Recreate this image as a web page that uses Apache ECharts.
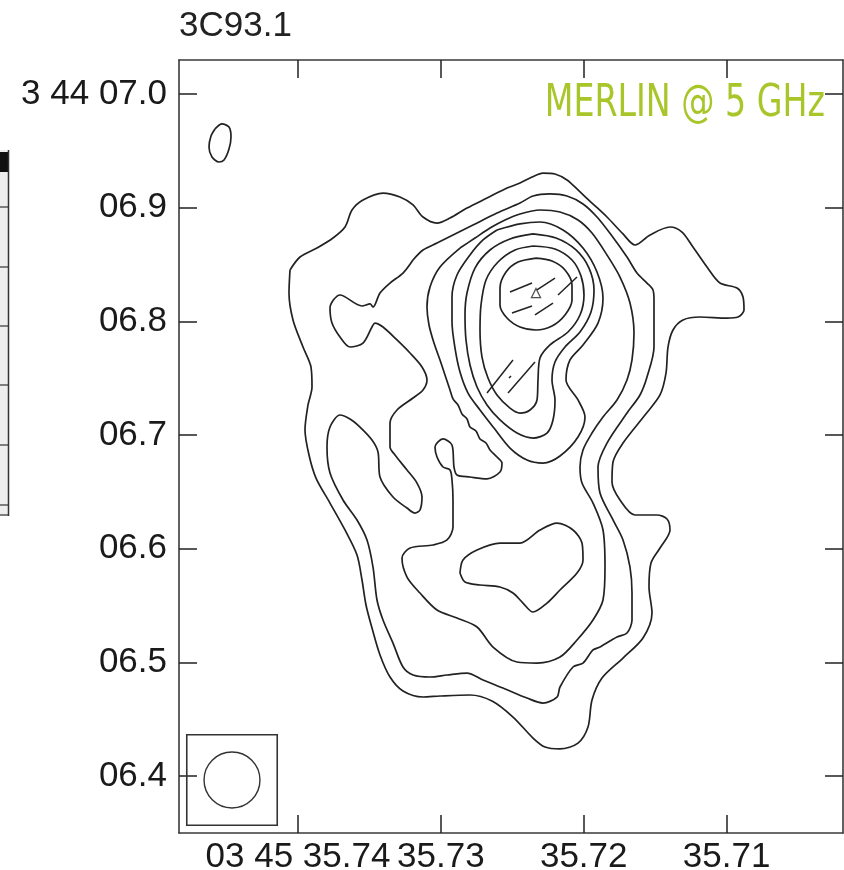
<!DOCTYPE html>
<html><head><meta charset="utf-8">
<script src="https://cdn.jsdelivr.net/npm/echarts@6/dist/echarts.min.js"></script>
<style>html,body{margin:0;padding:0;background:#fff}#c{width:844px;height:870px}</style>
</head><body><div id="c"></div>
<script>
// Right ascension (s past 03h45m) and declination (arcsec past +3d44m) ticks
const raTicks = [35.74, 35.73, 35.72, 35.71];
const raTickLabels = ['03 45 35.74', '35.73', '35.72', '35.71'];
const decTicks = [6.4, 6.5, 6.6, 6.7, 6.8, 6.9, 7.0];
const decTickLabels = ['06.4', '06.5', '06.6', '06.7', '06.8', '06.9', '3 44 07.0'];
const raRange = [35.70185, 35.74833];
const decRange = [6.34984, 7.03008];

// Contour polygons [RA s, Dec arcsec]
const contourBlob = [[35.74581,6.9694],[35.74532,6.9738],[35.74483,6.9711],[35.74469,6.9623],[35.74483,6.9518],[35.74518,6.9421],[35.74553,6.9403],[35.74602,6.9447],[35.74623,6.9535],[35.74609,6.9632],[35.74581,6.9694]];

const contour1 = [[35.74056,6.8453],[35.73986,6.8567],[35.73867,6.8646],[35.73755,6.8734],[35.73671,6.8831],[35.73622,6.8981],[35.73545,6.9069],[35.73405,6.9130],[35.73286,6.9095],[35.73195,6.9025],[35.73125,6.8919],[35.73027,6.8866],[35.72936,6.8910],[35.72817,6.8998],[35.72677,6.9086],[35.72537,6.9174],[35.72446,6.9218],[35.72362,6.9271],[35.72285,6.9306],[35.72201,6.9298],[35.72117,6.9245],[35.72040,6.9157],[35.71942,6.9042],[35.71837,6.8919],[35.71725,6.8770],[35.71641,6.8673],[35.71536,6.8761],[35.71396,6.8831],[35.71312,6.8787],[35.71235,6.8655],[35.71137,6.8479],[35.71046,6.8338],[35.70927,6.8294],[35.70885,6.8215],[35.70878,6.8101],[35.70920,6.8039],[35.70997,6.8030],[35.71186,6.8039],[35.71305,6.8013],[35.71375,6.7925],[35.71410,6.7775],[35.71424,6.7546],[35.71466,6.7353],[35.71571,6.7177],[35.71725,6.6930],[35.71795,6.6763],[35.71802,6.6587],[35.71746,6.6429],[35.71641,6.6297],[35.71487,6.6297],[35.71417,6.6262],[35.71396,6.6165],[35.71466,6.6006],[35.71529,6.5874],[35.71543,6.5663],[35.71522,6.5434],[35.71585,6.5214],[35.71725,6.5038],[35.71872,6.4862],[35.71942,6.4669],[35.71970,6.4431],[35.72040,6.4290],[35.72166,6.4238],[35.72271,6.4255],[35.72355,6.4334],[35.72495,6.4519],[35.72642,6.4660],[35.72796,6.4713],[35.73006,6.4704],[35.73125,6.4695],[35.73265,6.4748],[35.73356,6.4871],[35.73426,6.5065],[35.73482,6.5302],[35.73524,6.5505],[35.73552,6.5725],[35.73587,6.5945],[35.73671,6.6165],[35.73776,6.6402],[35.73874,6.6622],[35.73923,6.6825],[35.73951,6.7045],[35.73930,6.7265],[35.73902,6.7423],[35.73909,6.7599],[35.73965,6.7775],[35.74035,6.8013],[35.74063,6.8250],[35.74056,6.8453]];

const contour2 = [[35.73195,6.8541],[35.73125,6.8629],[35.73027,6.8690],[35.72915,6.8761],[35.72775,6.8849],[35.72607,6.8954],[35.72446,6.9042],[35.72355,6.9104],[35.72236,6.9122],[35.72117,6.9104],[35.72005,6.9034],[35.71907,6.8919],[35.71802,6.8752],[35.71697,6.8567],[35.71627,6.8426],[35.71557,6.8338],[35.71515,6.8277],[35.71508,6.8189],[35.71508,6.7775],[35.71557,6.7511],[35.71606,6.7353],[35.71697,6.7194],[35.71837,6.6930],[35.71900,6.6719],[35.71886,6.6490],[35.71795,6.6253],[35.71725,6.6077],[35.71676,6.5839],[35.71662,6.5610],[35.71662,6.5373],[35.71697,6.5258],[35.71767,6.5223],[35.71886,6.5135],[35.71935,6.5109],[35.72005,6.4994],[35.72075,6.4959],[35.72166,6.4783],[35.72187,6.4695],[35.72285,6.4642],[35.72397,6.4686],[35.72565,6.4774],[35.72705,6.4845],[35.72817,6.4906],[35.72957,6.4889],[35.73076,6.4871],[35.73195,6.4889],[35.73265,6.4959],[35.73335,6.5170],[35.73405,6.5373],[35.73447,6.5549],[35.73475,6.5839],[35.73517,6.6077],[35.73587,6.6253],[35.73685,6.6429],[35.73776,6.6666],[35.73797,6.6895],[35.73776,6.7071],[35.73706,6.7177],[35.73636,6.7142],[35.73566,6.7071],[35.73482,6.6957],[35.73440,6.6851],[35.73426,6.6631],[35.73335,6.6455],[35.73237,6.6358],[35.73181,6.6314],[35.73146,6.6341],[35.73132,6.6455],[35.73167,6.6578],[35.73237,6.6693],[35.73321,6.6825],[35.73356,6.6895],[35.73356,6.7106],[35.73307,6.7221],[35.73195,6.7326],[35.73125,6.7397],[35.73097,6.7485],[35.73132,6.7599],[35.73216,6.7722],[35.73307,6.7837],[35.73405,6.7951],[35.73461,6.7986],[35.73482,6.7951],[35.73545,6.7810],[35.73636,6.7775],[35.73706,6.7863],[35.73762,6.7986],[35.73776,6.8118],[35.73706,6.8233],[35.73552,6.8136],[35.73496,6.8154],[35.73475,6.8127],[35.73426,6.8250],[35.73356,6.8338],[35.73265,6.8426],[35.73195,6.8541]];

const contour3 = [[35.72866,6.8646],[35.72761,6.8734],[35.72656,6.8822],[35.72551,6.8893],[35.72446,6.8946],[35.72306,6.8981],[35.72166,6.8963],[35.72040,6.8893],[35.71942,6.8778],[35.71837,6.8585],[35.71746,6.8391],[35.71676,6.8162],[35.71648,6.7898],[35.71662,6.7661],[35.71697,6.7485],[35.71767,6.7309],[35.71865,6.7159],[35.71942,6.7018],[35.72005,6.6869],[35.72026,6.6719],[35.72012,6.6578],[35.71935,6.6402],[35.71865,6.6165],[35.71851,6.5839],[35.71865,6.5549],[35.71935,6.5373],[35.72047,6.5197],[35.72166,6.5047],[35.72327,6.4994],[35.72467,6.5003],[35.72635,6.5135],[35.72747,6.5311],[35.72887,6.5390],[35.73027,6.5461],[35.73146,6.5610],[35.73237,6.5751],[35.73272,6.5918],[35.73216,6.6006],[35.73055,6.6033],[35.72957,6.6077],[35.72915,6.6191],[35.72915,6.6429],[35.72922,6.6605],[35.72936,6.6693],[35.72985,6.6719],[35.73027,6.6807],[35.73041,6.6895],[35.72985,6.6966],[35.72922,6.6913],[35.72908,6.6719],[35.72887,6.6649],[35.72796,6.6631],[35.72677,6.6614],[35.72586,6.6675],[35.72572,6.6754],[35.72607,6.6807],[35.72656,6.6869],[35.72684,6.6930],[35.72726,6.6966],[35.72754,6.7036],[35.72796,6.7071],[35.72817,6.7142],[35.72852,6.7186],[35.72880,6.7265],[35.72915,6.7318],[35.72936,6.7397],[35.72971,6.7529],[35.73006,6.7661],[35.73048,6.7810],[35.73083,6.7969],[35.73097,6.8127],[35.73076,6.8303],[35.73006,6.8479],[35.72866,6.8646]];

const contour4 = [[35.72607,6.8805],[35.72446,6.8858],[35.72306,6.8875],[35.72145,6.8805],[35.72005,6.8646],[35.71907,6.8435],[35.71865,6.8206],[35.71900,6.7986],[35.72005,6.7793],[35.72096,6.7661],[35.72124,6.7485],[35.72040,6.7309],[35.71991,6.7159],[35.72040,6.6983],[35.72166,6.6816],[35.72285,6.6754],[35.72397,6.6781],[35.72516,6.6886],[35.72628,6.7062],[35.72726,6.7221],[35.72810,6.7370],[35.72866,6.7555],[35.72901,6.7766],[35.72922,6.7995],[35.72922,6.8215],[35.72887,6.8409],[35.72796,6.8585],[35.72705,6.8717],[35.72607,6.8805]];

const contour4b = [[35.72866,6.5786],[35.72845,6.5901],[35.72747,6.5989],[35.72586,6.6050],[35.72446,6.6050],[35.72306,6.6165],[35.72187,6.6226],[35.72075,6.6165],[35.72012,6.6050],[35.72005,6.5901],[35.72047,6.5786],[35.72166,6.5637],[35.72257,6.5522],[35.72355,6.5443],[35.72425,6.5522],[35.72495,6.5610],[35.72586,6.5663],[35.72726,6.5681],[35.72831,6.5707],[35.72866,6.5786]];

const contour5 = [[35.72355,6.8770],[35.72194,6.8734],[35.72054,6.8629],[35.71963,6.8470],[35.71928,6.8277],[35.71949,6.8083],[35.72026,6.7907],[35.72131,6.7775],[35.72201,6.7643],[35.72222,6.7485],[35.72201,6.7309],[35.72215,6.7133],[35.72257,6.7018],[35.72355,6.6974],[35.72467,6.7018],[35.72586,6.7133],[35.72677,6.7265],[35.72747,6.7423],[35.72796,6.7617],[35.72824,6.7837],[35.72831,6.8057],[35.72817,6.8250],[35.72761,6.8470],[35.72656,6.8629],[35.72516,6.8726],[35.72355,6.8770]];

const contour6 = [[35.72355,6.8664],[35.72201,6.8638],[35.72082,6.8541],[35.72019,6.8400],[35.71998,6.8233],[35.72026,6.8057],[35.72110,6.7907],[35.72236,6.7793],[35.72306,6.7678],[35.72320,6.7485],[35.72327,6.7309],[35.72376,6.7221],[35.72446,6.7194],[35.72516,6.7238],[35.72607,6.7353],[35.72670,6.7502],[35.72712,6.7687],[35.72726,6.7925],[35.72719,6.8145],[35.72684,6.8365],[35.72600,6.8523],[35.72481,6.8629],[35.72355,6.8664]];

const contour7 = [[35.72334,6.8558],[35.72222,6.8532],[35.72131,6.8453],[35.72082,6.8321],[35.72082,6.8189],[35.72131,6.8057],[35.72222,6.7960],[35.72334,6.7925],[35.72446,6.7951],[35.72537,6.8030],[35.72586,6.8145],[35.72586,6.8294],[35.72544,6.8435],[35.72460,6.8523],[35.72334,6.8558]];

// Polarisation vectors (start, end)
const vectors = [
  [[35.72516,6.8259],[35.72362,6.8338]],
  [[35.72327,6.8277],[35.72201,6.8382]],
  [[35.72180,6.8233],[35.72047,6.8391]],
  [[35.72502,6.8074],[35.72362,6.8136]],
  [[35.72341,6.8057],[35.72215,6.8162]],
  [[35.72677,6.7370],[35.72495,6.7661]],
  [[35.72530,6.7370],[35.72341,6.7643]],
  [[35.72523,6.7502],[35.72509,6.7520]]
];
const corePeak = [[35.72334, 6.8250]];
// Restoring beam: [RA, Dec, radius arcsec, box half-size arcsec]
const beam = [[35.74462, 6.3965, 0.0246, 0.0398]];

const contours = [contourBlob, contour1, contour2, contour3, contour4, contour4b, contour5, contour6, contour7];

const lineColor = '#222';
const series = [];
contours.forEach(function (c) {
  series.push({type: 'line', data: c, showSymbol: false, symbol: 'none', smooth: 0.3, silent: true,
    lineStyle: {color: lineColor, width: 1.7}, z: 3});
});
vectors.forEach(function (v) {
  series.push({type: 'line', data: v, showSymbol: false, symbol: 'none', silent: true,
    lineStyle: {color: lineColor, width: 1.5}, z: 3});
});
series.push({type: 'scatter', data: corePeak, symbol: 'triangle', symbolSize: 9, silent: true,
  itemStyle: {color: 'rgba(0,0,0,0)', borderColor: lineColor, borderWidth: 1.3}, z: 4});
series.push({type: 'custom', data: beam, silent: true, z: 3,
  renderItem: function (params, api) {
    const c = api.coord([api.value(0), api.value(1)]);
    const r = Math.abs(api.size([0, api.value(2)])[1]);
    const h = Math.abs(api.size([0, api.value(3)])[1]);
    return {type: 'group', children: [
      {type: 'rect', shape: {x: c[0] - h, y: c[1] - h, width: 2 * h, height: 2 * h},
        style: {fill: 'none', stroke: '#333', lineWidth: 1.6}},
      {type: 'circle', shape: {cx: c[0], cy: c[1], r: r},
        style: {fill: 'none', stroke: '#333', lineWidth: 1.4}}
    ]};
  }});

function labelFrom(ticks, labels) {
  return function (v) {
    for (let i = 0; i < ticks.length; i++) if (Math.abs(ticks[i] - v) < 1e-6) return labels[i];
    return '';
  };
}
const font = "'Liberation Sans', Arial, sans-serif";
const axisLineStyle = {color: '#3a3a3a', width: 1.6};
const tickStyle = {color: '#222', width: 1.5};

const option = {
  animation: false,
  backgroundColor: '#fff',
  title: {text: '3C93.1', left: 179, top: 9, padding: 0,
    textStyle: {fontSize: 35, fontWeight: 'normal', color: '#222', fontFamily: font}},
  grid: {left: 179, right: 1, top: 60, bottom: 37, containLabel: false, outerBoundsMode: 'none'},
  xAxis: [
    {type: 'value', inverse: true, min: raRange[0], max: raRange[1], position: 'bottom',
      axisLine: {show: true, lineStyle: axisLineStyle},
      axisTick: {show: true, inside: true, length: 18, lineStyle: tickStyle, customValues: raTicks},
      axisLabel: {show: true, customValues: raTicks, formatter: labelFrom(raTicks, raTickLabels),
        fontSize: 35, color: '#1a1a1a', fontFamily: font, margin: 7},
      splitLine: {show: false}},
    {type: 'value', inverse: true, min: raRange[0], max: raRange[1], position: 'top',
      axisLine: {show: true, lineStyle: axisLineStyle},
      axisTick: {show: true, inside: true, length: 18, lineStyle: tickStyle, customValues: raTicks},
      axisLabel: {show: false}, splitLine: {show: false}}
  ],
  yAxis: [
    {type: 'value', min: decRange[0], max: decRange[1], position: 'left',
      axisLine: {show: true, lineStyle: axisLineStyle},
      axisTick: {show: true, inside: true, length: 18, lineStyle: tickStyle, customValues: decTicks},
      axisLabel: {show: true, customValues: decTicks, formatter: labelFrom(decTicks, decTickLabels),
        fontSize: 35, color: '#1a1a1a', fontFamily: font, margin: 12},
      splitLine: {show: false}},
    {type: 'value', min: decRange[0], max: decRange[1], position: 'right',
      axisLine: {show: true, lineStyle: axisLineStyle},
      axisTick: {show: true, inside: true, length: 18, lineStyle: tickStyle, customValues: decTicks},
      axisLabel: {show: false}, splitLine: {show: false}}
  ],
  graphic: [
    {type: 'text', z: 10, x: 825, y: 105, scaleX: 0.84,
      style: {text: 'MERLIN @ 5 GHz', x: 0, y: 0,
        textAlign: 'right', textVerticalAlign: 'middle', align: 'right', verticalAlign: 'middle',
        font: "44px 'DejaVu Sans Condensed', 'Liberation Sans Narrow', 'Liberation Sans', sans-serif",
        fill: '#a8c62a'}},
    {type: 'rect', z: 1, shape: {x: 0, y: 150, width: 9, height: 366}, style: {fill: '#eeeeee'}},
    {type: 'rect', z: 2, shape: {x: 0, y: 152, width: 9, height: 20}, style: {fill: '#111'}},
    {type: 'line', z: 2, shape: {x1: 8.5, y1: 150, x2: 8.5, y2: 516}, style: {stroke: '#333', lineWidth: 1.5}},
    {type: 'line', z: 2, shape: {x1: 0, y1: 207, x2: 8.5, y2: 207}, style: {stroke: '#333', lineWidth: 1.2}},
    {type: 'line', z: 2, shape: {x1: 0, y1: 267, x2: 8.5, y2: 267}, style: {stroke: '#333', lineWidth: 1.2}},
    {type: 'line', z: 2, shape: {x1: 0, y1: 326, x2: 8.5, y2: 326}, style: {stroke: '#333', lineWidth: 1.2}},
    {type: 'line', z: 2, shape: {x1: 0, y1: 385, x2: 8.5, y2: 385}, style: {stroke: '#333', lineWidth: 1.2}},
    {type: 'line', z: 2, shape: {x1: 0, y1: 445, x2: 8.5, y2: 445}, style: {stroke: '#333', lineWidth: 1.2}},
    {type: 'line', z: 2, shape: {x1: 0, y1: 505, x2: 8.5, y2: 505}, style: {stroke: '#333', lineWidth: 1.2}},
    {type: 'line', z: 2, shape: {x1: 0, y1: 515, x2: 8.5, y2: 515}, style: {stroke: '#333', lineWidth: 1.2}}
  ],
  series: series
};
const chart = echarts.init(document.getElementById('c'), null, {renderer: 'canvas'});
chart.setOption(option);
</script></body></html>
